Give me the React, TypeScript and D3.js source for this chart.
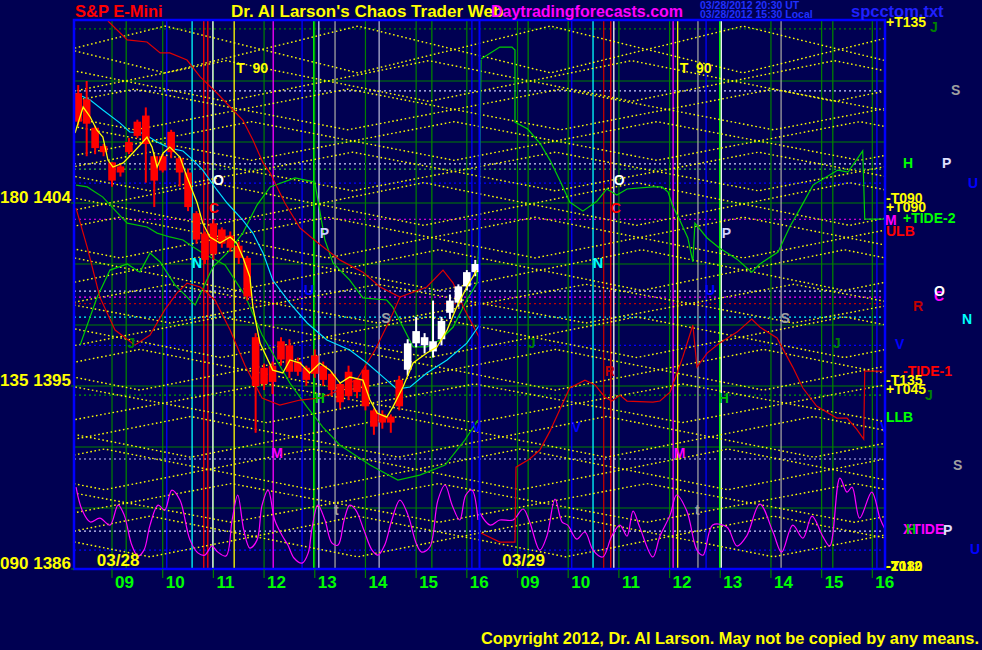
import React from 'react';
import * as d3 from 'd3';

const W = 982, H = 650;
const PLOT = { left: 74, right: 885, top: 20, bottom: 569 };

// ---------- data ----------
const sessionStart = 8.25; // 08:15
const sessionHours = 8;
const days = ['03/28', '03/29'];
const hourTicks = [9, 10, 11, 12, 13, 14, 15, 16];
const priceDomain = [1386, 1413];
const gridPrices = [1389, 1392, 1395, 1398, 1401, 1404, 1407, 1410];
const axisLabels = [
  { p: 1404, t: '180 1404' },
  { p: 1395, t: '135 1395' },
  { p: 1386, t: '090 1386' },
];

// 10 minute bars from 08:15, [open, high, low, close]
const barMinutes = 10;
const whiteFromBar = 39;
const bars: [number, number, number, number][] = [
  [1408.0, 1409.8, 1407.8, 1409.4], [1409.1, 1410.0, 1406.3, 1407.9], [1407.7, 1407.8, 1406.4, 1406.7],
  [1406.8, 1406.9, 1406.3, 1406.5], [1406.0, 1406.0, 1404.8, 1405.1], [1405.8, 1405.9, 1405.3, 1405.5],
  [1406.5, 1407.2, 1406.4, 1407.0], [1407.3, 1408.1, 1407.2, 1408.0], [1408.3, 1408.7, 1405.0, 1406.9],
  [1406.3, 1406.4, 1403.8, 1405.1], [1405.6, 1406.4, 1405.5, 1406.3], [1406.5, 1407.6, 1406.2, 1407.5],
  [1406.2, 1406.3, 1404.8, 1405.5], [1405.5, 1405.7, 1403.6, 1403.8], [1403.5, 1403.6, 1402.0, 1402.2],
  [1402.5, 1402.6, 1401.0, 1401.2], [1401.5, 1403.2, 1401.2, 1403.0], [1402.7, 1402.8, 1401.8, 1402.0],
  [1402.4, 1402.6, 1401.6, 1401.8], [1401.9, 1402.1, 1401.0, 1401.3], [1401.3, 1401.4, 1399.2, 1399.4],
  [1397.4, 1397.6, 1392.7, 1395.0], [1395.9, 1396.1, 1394.8, 1395.1], [1395.2, 1396.2, 1394.6, 1396.0],
  [1396.3, 1397.4, 1396.0, 1397.2], [1397.0, 1397.3, 1395.4, 1395.7], [1396.2, 1396.4, 1395.5, 1395.7],
  [1395.9, 1396.0, 1395.0, 1395.3], [1395.6, 1396.8, 1395.4, 1396.5], [1396.0, 1396.2, 1395.0, 1395.3],
  [1395.6, 1395.7, 1394.5, 1394.8], [1395.1, 1395.2, 1393.9, 1394.2], [1394.5, 1396.0, 1394.3, 1395.7],
  [1395.3, 1395.4, 1394.4, 1394.7], [1395.8, 1396.0, 1393.8, 1394.0], [1393.8, 1393.9, 1392.6, 1393.0],
  [1393.2, 1393.8, 1392.9, 1393.6], [1393.5, 1393.6, 1392.7, 1393.2], [1394.0, 1395.5, 1393.8, 1395.3],
  [1395.8, 1397.3, 1395.5, 1397.1], [1397.1, 1398.4, 1396.9, 1397.7], [1397.4, 1397.6, 1396.6, 1397.0],
  [1396.7, 1399.2, 1396.4, 1397.2], [1397.3, 1398.4, 1397.0, 1398.2], [1398.6, 1399.5, 1398.3, 1399.2],
  [1399.1, 1400.0, 1398.9, 1399.9], [1399.9, 1400.7, 1399.7, 1400.6], [1400.6, 1401.2, 1400.4, 1401.0],
];

// curves: [session hour offset, price]
const cyanLine: [number, number][] = [
  [0.02, 1409.41], [0.32, 1409.07], [0.57, 1408.57], [0.91, 1407.93], [1.10, 1407.49], [1.36, 1407.44],
  [1.64, 1407.0], [1.89, 1406.70], [2.15, 1406.56], [2.35, 1406.11], [2.54, 1405.62], [2.82, 1404.64],
  [3.02, 1404.0], [3.33, 1403.16], [3.53, 1402.52], [3.73, 1401.54], [3.92, 1400.21], [4.26, 1399.08],
  [4.60, 1398.10], [4.99, 1397.26], [5.44, 1396.77], [5.78, 1396.13], [6.17, 1395.29], [6.37, 1394.85],
  [6.63, 1394.95], [6.96, 1395.64], [7.36, 1396.28], [7.75, 1397.11], [8.0, 1398.0],
];
const yellowAvg: [number, number][] = [
  [0.02, 1407.44], [0.18, 1408.72], [0.32, 1408.23], [0.45, 1407.59], [0.57, 1407.24], [0.67, 1406.11],
  [0.77, 1405.77], [0.97, 1405.97], [1.16, 1406.46], [1.34, 1406.95], [1.44, 1407.24], [1.54, 1406.75],
  [1.64, 1405.77], [1.76, 1406.46], [1.89, 1406.75], [2.09, 1406.26], [2.23, 1405.28], [2.43, 1404.0],
  [2.54, 1403.01], [2.68, 1402.33], [2.88, 1402.03], [3.08, 1402.33], [3.21, 1402.03], [3.33, 1401.34],
  [3.47, 1400.36], [3.53, 1398.88], [3.67, 1397.11], [3.92, 1395.78], [4.12, 1395.64], [4.26, 1396.28],
  [4.46, 1396.13], [4.65, 1395.64], [4.85, 1396.13], [5.05, 1395.78], [5.25, 1395.14], [5.44, 1395.44],
  [5.70, 1395.29], [5.84, 1394.31], [5.98, 1393.67], [6.17, 1393.47], [6.29, 1393.96], [6.49, 1394.95],
  [6.69, 1396.13], [6.96, 1396.62], [7.16, 1396.92], [7.36, 1397.75], [7.55, 1398.88], [7.75, 1399.87],
  [7.95, 1400.70],
];
const redA: [number, number][] = [
  [0.67, 1412.95], [1.05, 1412.02], [1.44, 1411.92], [1.70, 1411.38], [1.89, 1411.38], [2.23, 1411.03],
  [2.49, 1410.20], [2.82, 1409.41], [3.08, 1408.72], [3.33, 1408.08], [3.53, 1407.10], [3.73, 1405.97],
  [3.87, 1405.47], [4.16, 1404.0], [4.46, 1402.77], [4.79, 1402.08], [5.25, 1401.19], [5.70, 1400.60],
  [6.04, 1399.87], [6.43, 1399.37], [6.96, 1399.87], [7.28, 1400.70], [7.48, 1400.06], [7.71, 1398.74],
  [7.99, 1397.41], [7.99, 1391.6],
];
const redB: [number, number][] = [
  [0.04, 1403.75], [0.26, 1401.83], [0.51, 1399.37], [0.81, 1397.75], [1.20, 1397.01], [1.50, 1397.51],
  [1.79, 1398.74], [2.03, 1399.57], [2.23, 1400.06], [2.49, 1399.87], [2.78, 1399.23], [3.08, 1397.75],
  [3.37, 1396.03], [3.71, 1394.41], [4.06, 1394.06], [4.46, 1394.31], [4.85, 1394.41], [5.25, 1394.80],
  [5.60, 1395.39], [5.94, 1396.77], [6.23, 1398.24], [6.43, 1399.37],
];
const greenA: [number, number][] = [
  [0.04, 1404.88], [0.26, 1404.79], [0.57, 1404.29], [0.77, 1403.75], [1.05, 1403.01], [1.44, 1402.82],
  [1.64, 1402.52], [1.89, 1402.33], [2.15, 1402.18], [2.29, 1401.93], [2.54, 1401.54], [2.98, 1400.95],
  [3.37, 1399.47], [3.71, 1397.51], [4.26, 1395.14], [4.60, 1393.96], [4.91, 1392.98], [5.25, 1392.09],
  [5.84, 1391.11], [6.39, 1390.37], [6.82, 1390.62], [7.32, 1391.11], [7.71, 1392.34], [7.97, 1393.32],
];
const greenB: [number, number][] = [
  [0.12, 1397.01], [0.45, 1399.33], [0.71, 1400.70], [1.05, 1401.0], [1.30, 1400.60], [1.50, 1401.54],
  [1.70, 1401.10], [1.99, 1399.97], [2.39, 1398.98], [2.74, 1400.85], [3.08, 1401.69], [3.33, 1402.52],
  [3.61, 1403.90], [3.87, 1404.79], [4.36, 1405.23], [4.75, 1405.03], [4.95, 1402.18], [5.11, 1401.05],
  [5.44, 1400.21], [5.70, 1399.33], [6.17, 1399.23], [6.29, 1398.88], [6.49, 1397.90], [6.69, 1396.92],
  [6.96, 1396.92], [7.22, 1397.26], [7.48, 1397.90], [7.75, 1399.23], [7.95, 1400.06], [7.99, 1402.18],
  [8.03, 1411.03],
];
const greenDay2: [number, number][] = [
  [8.03, 1411.08], [8.40, 1411.67], [8.64, 1411.67], [8.70, 1411.52], [8.70, 1407.98], [8.95, 1407.64],
  [9.19, 1406.95], [9.39, 1406.11], [9.59, 1405.08], [9.78, 1404.05], [10.04, 1403.60], [10.32, 1404.10],
  [10.51, 1404.69], [10.71, 1404.39], [10.91, 1404.69], [11.42, 1404.79], [11.60, 1404.79], [11.72, 1404.54],
  [11.81, 1403.85], [11.95, 1403.16], [12.11, 1402.28], [12.21, 1401.10], [12.25, 1403.01], [12.49, 1402.28],
  [12.74, 1401.78], [13.08, 1401.24], [13.37, 1400.60], [13.53, 1401.0], [13.89, 1401.59], [14.12, 1402.82],
  [14.32, 1403.70], [14.58, 1404.88], [14.71, 1405.08], [15.07, 1405.62], [15.27, 1405.52], [15.56, 1406.56],
  [15.58, 1404.98], [15.60, 1403.21], [16.0, 1403.21],
];
const redDay2: [number, number][] = [
  [8.03, 1387.77], [8.40, 1387.32], [8.70, 1387.32], [8.72, 1391.01], [8.99, 1391.41], [9.19, 1391.85],
  [9.39, 1392.78], [9.59, 1393.87], [9.78, 1394.90], [10.08, 1395.29], [10.28, 1395.05], [10.47, 1394.46],
  [10.61, 1394.26], [10.77, 1394.55], [10.91, 1394.26], [11.42, 1394.21], [11.56, 1394.26], [11.76, 1394.70],
  [11.89, 1395.59], [12.01, 1396.42], [12.21, 1398.0], [12.29, 1395.93], [12.49, 1396.62], [12.74, 1397.11],
  [13.08, 1397.65], [13.37, 1398.29], [13.53, 1397.90], [13.87, 1397.36], [14.18, 1395.93], [14.38, 1394.90],
  [14.65, 1394.01], [15.05, 1393.42], [15.25, 1393.42], [15.44, 1392.88], [15.58, 1392.39], [15.60, 1395.73],
  [16.0, 1395.73],
];
const tideDay1: [number, number][] = [
  [0.04, 1390.03], [0.16, 1388.90], [0.32, 1388.31], [0.51, 1388.50], [0.71, 1388.16], [0.87, 1389.14],
  [0.99, 1388.65], [1.14, 1387.18], [1.26, 1386.64], [1.38, 1386.93], [1.50, 1388.16], [1.66, 1389.14],
  [1.79, 1388.90], [1.93, 1389.88], [2.09, 1389.39], [2.29, 1387.42], [2.45, 1386.78], [2.58, 1386.68],
  [2.72, 1387.13], [2.84, 1386.83], [3.0, 1386.64], [3.12, 1388.41], [3.23, 1389.64], [3.35, 1387.91],
  [3.47, 1387.03], [3.61, 1387.42], [3.71, 1389.14], [3.83, 1389.88], [3.96, 1388.41], [4.10, 1387.67],
  [4.22, 1387.18], [4.34, 1386.54], [4.50, 1386.29], [4.62, 1386.78], [4.69, 1387.91], [4.81, 1389.14],
  [4.95, 1388.41], [5.09, 1387.27], [5.21, 1387.18], [5.33, 1388.41], [5.44, 1389.14], [5.56, 1388.90],
  [5.72, 1387.91], [5.88, 1386.93], [6.0, 1386.68], [6.13, 1387.18], [6.27, 1388.41], [6.43, 1389.39],
  [6.59, 1388.65], [6.75, 1387.27], [6.86, 1386.83], [7.02, 1387.08], [7.18, 1389.39], [7.32, 1390.13],
  [7.46, 1389.14], [7.61, 1388.41], [7.73, 1389.64], [7.85, 1389.88], [7.97, 1388.41],
];
const tideDay2: [number, number][] = [
  [8.01, 1388.75], [8.21, 1388.16], [8.40, 1388.41], [8.66, 1388.41], [8.86, 1388.95], [8.99, 1388.31],
  [9.19, 1386.93], [9.33, 1387.62], [9.49, 1389.44], [9.63, 1388.31], [9.74, 1388.16], [9.92, 1387.47],
  [10.08, 1387.82], [10.24, 1386.93], [10.43, 1386.59], [10.61, 1387.62], [10.77, 1388.16], [10.91, 1387.62],
  [11.03, 1388.85], [11.16, 1388.06], [11.42, 1386.59], [11.56, 1387.62], [11.76, 1388.65], [11.89, 1389.64],
  [12.09, 1388.85], [12.29, 1386.93], [12.41, 1386.68], [12.60, 1388.16], [12.88, 1388.06], [13.08, 1387.13],
  [13.27, 1387.62], [13.53, 1389.19], [13.79, 1387.82], [13.96, 1386.83], [14.18, 1388.16], [14.38, 1387.52],
  [14.56, 1388.60], [14.77, 1387.62], [14.91, 1387.13], [15.11, 1390.47], [15.25, 1389.78], [15.35, 1390.03],
  [15.50, 1388.50], [15.74, 1389.78], [15.90, 1388.50], [16.0, 1387.96],
];

// yellow lattice bands: zig-zag knots (session hours) between lo and hi
const latticeBands = [
  { lo: 1410.4, hi: 1412.7, knots: [-2.0, 1.8, 5.6, 9.4, 13.2, 17.0] },
  { lo: 1409.0, hi: 1411.0, knots: [-1.0, 3.0, 7.0, 11.0, 15.0, 19.0] },
  { lo: 1407.6, hi: 1409.6, knots: [-3.0, 1.2, 5.4, 9.6, 13.8, 18.0] },
  { lo: 1406.1, hi: 1408.0, knots: [-0.5, 3.5, 7.5, 11.5, 15.5, 19.5] },
  { lo: 1404.6, hi: 1406.5, knots: [-2.5, 1.5, 5.5, 9.5, 13.5, 17.5] },
  { lo: 1402.9, hi: 1405.0, knots: [-1.5, 2.7, 6.9, 11.1, 15.3, 19.5] },
  { lo: 1401.3, hi: 1403.3, knots: [-3.2, 0.9, 5.0, 9.1, 13.2, 17.3] },
  { lo: 1399.7, hi: 1401.7, knots: [-0.8, 3.2, 7.2, 11.2, 15.2, 19.2] },
  { lo: 1398.1, hi: 1400.0, knots: [-2.2, 1.9, 6.0, 10.1, 14.2, 18.3] },
  { lo: 1396.4, hi: 1398.4, knots: [-1.2, 2.9, 7.0, 11.1, 15.2, 19.3] },
  { lo: 1394.8, hi: 1396.8, knots: [-2.8, 1.3, 5.4, 9.5, 13.6, 17.7] },
  { lo: 1393.2, hi: 1395.1, knots: [-0.3, 3.8, 7.9, 12.0, 16.1] },
  { lo: 1391.5, hi: 1393.5, knots: [-1.8, 2.3, 6.4, 10.5, 14.6, 18.7] },
  { lo: 1389.9, hi: 1391.9, knots: [-3.5, 0.6, 4.7, 8.8, 12.9, 17.0] },
  { lo: 1388.3, hi: 1390.2, knots: [-1.0, 3.1, 7.2, 11.3, 15.4, 19.5] },
  { lo: 1386.6, hi: 1388.6, knots: [-2.6, 1.5, 5.6, 9.7, 13.8, 17.9] },
];

const levelLines = [
  { p: 1412.56, c: '#008000' }, { p: 1409.51, c: '#d0d0ff' }, { p: 1405.92, c: '#d0d0ff' },
  { p: 1405.67, c: '#40c040' }, { p: 1404.98, c: '#0000ff' }, { p: 1403.2, c: '#ff00ff' },
  { p: 1399.67, c: '#d0d0ff' }, { p: 1399.37, c: '#ff00ff' }, { p: 1399.05, c: '#c00000' },
  { p: 1398.39, c: '#00ffff' }, { p: 1397.0, c: '#0000ff' }, { p: 1394.55, c: '#00a000' },
  { p: 1391.41, c: '#c0c0ff' }, { p: 1387.86, c: '#d0d0ff' }, { p: 1386.93, c: '#0000ff' },
];

// vertical event lines: day index, clock hour, colour
const eventLines = [
  { d: 0, h: 9.28, c: '#008000' }, { d: 0, h: 10.08, c: '#0000ff' }, { d: 0, h: 10.58, c: '#00ffff' },
  { d: 0, h: 10.81, c: '#ff0000' }, { d: 0, h: 10.89, c: '#ff0000' }, { d: 0, h: 10.99, c: '#ffffff' },
  { d: 0, h: 11.41, c: '#ffff00' }, { d: 0, h: 12.18, c: '#ff00ff' }, { d: 0, h: 12.75, c: '#0000ff' },
  { d: 0, h: 12.98, c: '#00ff00' }, { d: 0, h: 13.08, c: '#c8c8ff' }, { d: 0, h: 13.40, c: '#a0a0a0' },
  { d: 0, h: 14.27, c: '#b0b0d0' }, { d: 0, h: 15.31, c: '#008000' }, { d: 0, h: 16.10, c: '#0000ff' },
  { d: 1, h: 9.21, c: '#008000' }, { d: 1, h: 10.07, c: '#0000ff' }, { d: 1, h: 10.49, c: '#00ffff' },
  { d: 1, h: 10.70, c: '#c00000' }, { d: 1, h: 10.84, c: '#ff0000' }, { d: 1, h: 10.90, c: '#ffffff' },
  { d: 1, h: 12.07, c: '#ff00ff' }, { d: 1, h: 12.16, c: '#ffff00' }, { d: 1, h: 12.56, c: '#a0a0a0' },
  { d: 1, h: 12.72, c: '#0000ff' }, { d: 1, h: 12.99, c: '#00ff00' }, { d: 1, h: 13.02, c: '#ffffff' },
  { d: 1, h: 14.20, c: '#a0a0a0' }, { d: 1, h: 15.22, c: '#008000' }, { d: 1, h: 16.09, c: '#0000ff' },
];

const plotLabels = [
  { t: 'T  90', d: 0, h: 11.45, p: 1410.39, c: '#ffff00' }, { t: 'O', d: 0, h: 10.99, p: 1404.88, c: '#ffffff' },
  { t: 'C', d: 0, h: 10.91, p: 1403.5, c: '#ff0000' }, { t: 'N', d: 0, h: 10.58, p: 1400.8, c: '#00ffff' },
  { t: 'J', d: 0, h: 9.30, p: 1396.87, c: '#008000' }, { t: 'P', d: 0, h: 13.10, p: 1402.28, c: '#d0d0ff' },
  { t: 'U', d: 0, h: 12.79, p: 1399.47, c: '#0000ff' }, { t: 'S', d: 0, h: 14.31, p: 1398.1, c: '#a0a0a0' },
  { t: 'H', d: 0, h: 13.0, p: 1394.16, c: '#00c000' }, { t: 'M', d: 0, h: 12.14, p: 1391.45, c: '#ff00ff' },
  { t: 't', d: 0, h: 13.38, p: 1388.65, c: '#a0a0a0' }, { t: 'V', d: 0, h: 16.1, p: 1392.73, c: '#0000ff' },
  { t: 'T  90', d: 1, h: 12.2, p: 1410.39, c: '#ffff00' }, { t: 'O', d: 1, h: 10.9, p: 1404.88, c: '#ffffff' },
  { t: 'C', d: 1, h: 10.84, p: 1403.5, c: '#ff0000' }, { t: 'N', d: 1, h: 10.49, p: 1400.8, c: '#00ffff' },
  { t: 'J', d: 1, h: 9.2, p: 1396.87, c: '#008000' }, { t: 'P', d: 1, h: 13.03, p: 1402.28, c: '#d0d0ff' },
  { t: 'U', d: 1, h: 12.7, p: 1399.47, c: '#0000ff' }, { t: 'S', d: 1, h: 14.19, p: 1398.1, c: '#a0a0a0' },
  { t: 'J', d: 1, h: 15.22, p: 1396.87, c: '#008000' }, { t: 'R', d: 1, h: 10.72, p: 1395.5, c: '#c00000' },
  { t: 'V', d: 1, h: 10.07, p: 1392.73, c: '#0000ff' }, { t: 'H', d: 1, h: 12.97, p: 1394.16, c: '#00c000' },
  { t: 'M', d: 1, h: 12.08, p: 1391.45, c: '#ff00ff' }, { t: 't', d: 1, h: 12.5, p: 1388.65, c: '#a0a0a0' },
  { t: 'V', d: 1, h: 16.15, p: 1392.73, c: '#0000ff' },
];

const sideLabels = [
  { t: '+T135', p: 1412.9, dx: 1, c: '#ffff00' }, { t: 'J', p: 1412.65, dx: 45, c: '#008000' },
  { t: 'S', p: 1409.56, dx: 66, c: '#a0a0a0' }, { t: 'H', p: 1405.97, dx: 18, c: '#00ff00' },
  { t: 'P', p: 1405.97, dx: 57, c: '#e0e0ff' }, { t: 'U', p: 1404.98, dx: 83, c: '#0000ff' },
  { t: '-T090', p: 1404.24, dx: 1, c: '#ffff00' }, { t: '+T090', p: 1403.8, dx: 1, c: '#ffff00' },
  { t: '+TIDE-2', p: 1403.26, dx: 18, c: '#00ff00' }, { t: 'M', p: 1403.16, dx: 0, c: '#ff00ff' },
  { t: 'ULB', p: 1402.62, dx: 1, c: '#ff0000' }, { t: 'R', p: 1398.95, dx: 28, c: '#c00000' },
  { t: 'C', p: 1399.43, dx: 49, c: '#ff00ff' }, { t: 'O', p: 1399.67, dx: 49, c: '#ffffff' },
  { t: 'N', p: 1398.29, dx: 77, c: '#00ffff' }, { t: 'V', p: 1397.06, dx: 10, c: '#0000ff' },
  { t: '-TIDE-1', p: 1395.73, dx: 18, c: '#ff0000' }, { t: '-T135', p: 1395.29, dx: 1, c: '#ffff00' },
  { t: '+T045', p: 1394.85, dx: 1, c: '#ffff00' }, { t: 'J', p: 1394.55, dx: 40, c: '#008000' },
  { t: 'LLB', p: 1393.47, dx: 1, c: '#00ff00' }, { t: 'S', p: 1391.11, dx: 68, c: '#a0a0a0' },
  { t: 'XTIDE', p: 1387.96, dx: 18, c: '#ff00ff' }, { t: 'H', p: 1387.96, dx: 21, c: '#00c000' },
  { t: 'P', p: 1387.91, dx: 58, c: '#e0e0ff' }, { t: 'U', p: 1386.98, dx: 85, c: '#0000ff' },
  { t: '-T180', p: 1386.14, dx: 1, c: '#ffff00' }, { t: '-2012', p: 1386.14, dx: 1, c: '#ffff00' },
];

const FONT = '"Liberation Sans", Arial, sans-serif';

export default function App() {
  const x = d3.scaleLinear().domain([0, sessionHours * 2]).range([PLOT.left, PLOT.right]);
  const y = d3.scaleLinear().domain(priceDomain).range([PLOT.bottom, PLOT.top]);
  const off = (d: number, h: number) => d * sessionHours + h - sessionStart;
  const line = d3.line<[number, number]>().x(d => x(d[0])).y(d => y(d[1]));
  const smooth = d3.line<[number, number]>().x(d => x(d[0])).y(d => y(d[1])).curve(d3.curveCatmullRom.alpha(0.5));
  const barW = x(barMinutes / 60) - x(0);

  const lattice: [number, number][][] = [];
  latticeBands.forEach(b => {
    lattice.push(b.knots.map((k, i) => [k, i % 2 === 0 ? b.lo : b.hi] as [number, number]));
    lattice.push(b.knots.map((k, i) => [k, i % 2 === 0 ? b.hi : b.lo] as [number, number]));
  });

  return (
    <svg width={W} height={H} style={{ position: 'absolute', left: 0, top: 0, display: 'block' }} fontFamily={FONT} fontWeight="bold">
      <defs>
        <clipPath id="plotClip">
          <rect x={PLOT.left} y={PLOT.top} width={PLOT.right - PLOT.left} height={PLOT.bottom - PLOT.top} />
        </clipPath>
      </defs>
      <rect x={0} y={0} width={W} height={H} fill="#000052" />

      <g clipPath="url(#plotClip)">
        {gridPrices.map(p => (
          <line key={'g' + p} x1={PLOT.left} x2={PLOT.right} y1={y(p)} y2={y(p)} stroke="#008000" strokeWidth={1.2} />
        ))}
        {levelLines.map((l, i) => (
          <line key={'l' + i} x1={PLOT.left} x2={PLOT.right} y1={y(l.p)} y2={y(l.p)} stroke={l.c} strokeWidth={1.2} strokeDasharray="2 3" />
        ))}
        {days.map((_, d) => hourTicks.map(h => (
          <line key={`h${d}-${h}`} x1={x(off(d, h))} x2={x(off(d, h))} y1={PLOT.top} y2={PLOT.bottom} stroke="#008000" strokeWidth={1.2} />
        )))}
        {eventLines.map((v, i) => (
          <line key={'v' + i} x1={x(off(v.d, v.h))} x2={x(off(v.d, v.h))} y1={PLOT.top} y2={PLOT.bottom} stroke={v.c} strokeWidth={1.3} />
        ))}
        {lattice.map((pts, i) => (
          <path key={'lat' + i} d={line(pts) || ''} fill="none" stroke="#ffff00" strokeWidth={1.4} strokeDasharray="1.6 2.6" />
        ))}
        <path d={smooth(tideDay1) || ''} fill="none" stroke="#ff00ff" strokeWidth={1.2} />
        <path d={smooth(tideDay2) || ''} fill="none" stroke="#ff00ff" strokeWidth={1.2} />
        <path d={line(greenA) || ''} fill="none" stroke="#00c000" strokeWidth={1.2} />
        <path d={line(greenB) || ''} fill="none" stroke="#00d000" strokeWidth={1.2} />
        <path d={line(greenDay2) || ''} fill="none" stroke="#00d000" strokeWidth={1.2} />
        <path d={line(redA) || ''} fill="none" stroke="#e00000" strokeWidth={1.2} />
        <path d={line(redB) || ''} fill="none" stroke="#e00000" strokeWidth={1.2} />
        <path d={line(redDay2) || ''} fill="none" stroke="#e00000" strokeWidth={1.2} />
        <path d={line(cyanLine) || ''} fill="none" stroke="#00e0ff" strokeWidth={1.2} />
        {bars.map((b, i) => {
          const t = (i * barMinutes) / 60;
          const cx = x(t) + barW / 2;
          const col = i >= whiteFromBar ? '#ffffff' : '#ff0000';
          const top = y(Math.max(b[0], b[3]));
          const bot = y(Math.min(b[0], b[3]));
          return (
            <g key={'b' + i}>
              <line x1={cx} x2={cx} y1={y(b[1])} y2={y(b[2])} stroke={col} strokeWidth={2} />
              <rect x={cx - barW * 0.45} y={top} width={barW * 0.9} height={Math.max(2, bot - top)} fill={col} />
            </g>
          );
        })}
        <path d={line(yellowAvg) || ''} fill="none" stroke="#ffff00" strokeWidth={1.3} />
        <line x1={x(sessionHours)} x2={x(sessionHours)} y1={PLOT.top} y2={PLOT.bottom} stroke="#0000ff" strokeWidth={2} />
        {plotLabels.map((l, i) => (
          <text key={'pl' + i} x={x(off(l.d, l.h))} y={y(l.p)} fill={l.c} fontSize={14} xmlSpace="preserve">{l.t}</text>
        ))}
        {days.map((dd, d) => (
          <text key={'dd' + d} x={x(off(d, 8.7))} y={PLOT.bottom - 3} fill="#ffff00" fontSize={17}>{dd}</text>
        ))}
      </g>

      <rect x={PLOT.left} y={PLOT.top} width={PLOT.right - PLOT.left} height={PLOT.bottom - PLOT.top} fill="none" stroke="#0000ff" strokeWidth={2.5} />

      {days.map((_, d) => hourTicks.map(h => (
        <g key={`t${d}-${h}`}>
          <line x1={x(off(d, h))} x2={x(off(d, h))} y1={PLOT.bottom} y2={PLOT.bottom + 9} stroke="#008000" strokeWidth={1.2} />
          <text x={x(off(d, h)) + 3} y={PLOT.bottom + 19} fill="#00ff00" fontSize={17}>{d3.format('02d')(h)}</text>
        </g>
      )))}

      {axisLabels.map(a => (
        <g key={'a' + a.p}>
          <line x1={PLOT.left - 3} x2={PLOT.left} y1={y(a.p)} y2={y(a.p)} stroke="#008000" />
          <text x={PLOT.left - 3} y={y(a.p)} fill="#ffff00" fontSize={17} textAnchor="end">{a.t}</text>
        </g>
      ))}

      {sideLabels.map((s, i) => (
        <text key={'s' + i} x={PLOT.right + s.dx} y={y(s.p) + 5} fill={s.c} fontSize={14}>{s.t}</text>
      ))}

      <text x={75} y={17} fill="#ff0000" fontSize={16.5}>S&amp;P E-Mini</text>
      <text x={231} y={17} fill="#ffff00" fontSize={17}>Dr. Al Larson's Chaos Trader Web</text>
      <text x={491} y={17} fill="#ff00ff" fontSize={16}>Daytradingforecasts.com</text>
      <text x={700} y={9} fill="#2030ff" fontSize={10.5}>03/28/2012 20:30 UT</text>
      <text x={700} y={18} fill="#2030ff" fontSize={10.5}>03/28/2012 15:30 Local</text>
      <text x={851} y={17} fill="#2020ff" fontSize={16.5}>spcctom.txt</text>

      <text x={481} y={644} fill="#ffff00" fontSize={16} textLength={498} lengthAdjust="spacingAndGlyphs">Copyright 2012, Dr. Al Larson. May not be copied by any means.</text>
    </svg>
  );
}
